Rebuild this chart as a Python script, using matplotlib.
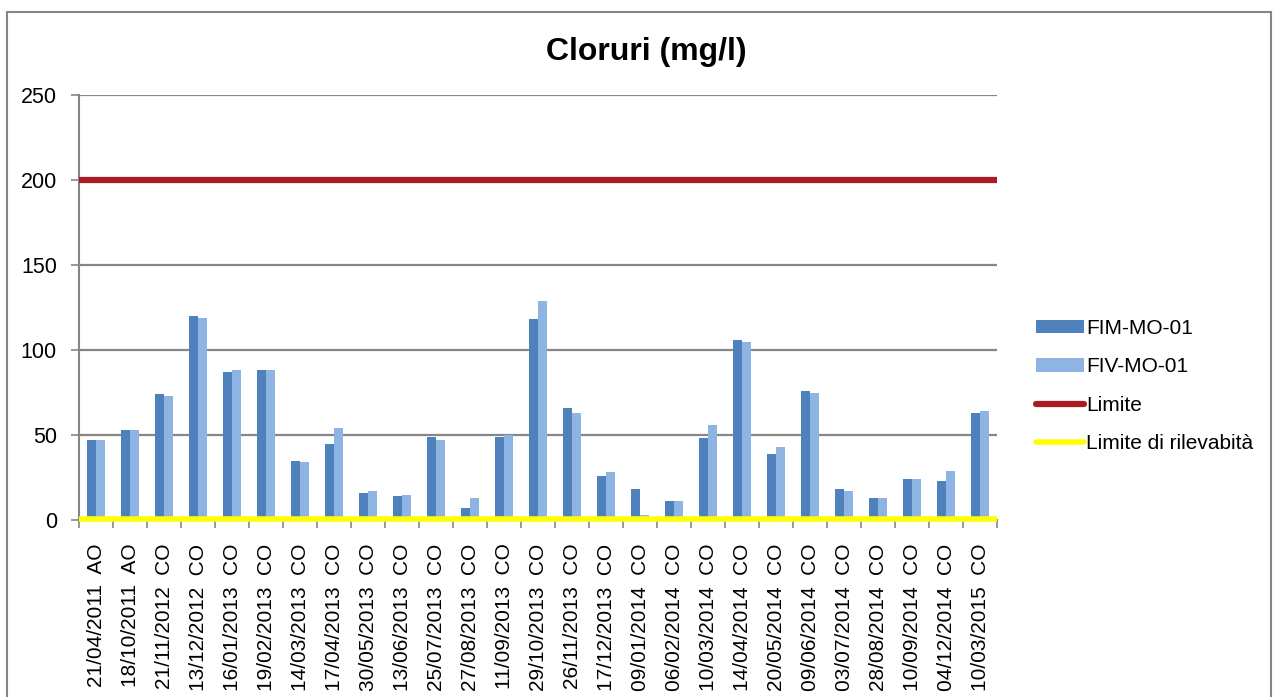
import matplotlib
matplotlib.use("Agg")
import matplotlib.pyplot as plt
import numpy as np
from matplotlib.patches import Patch, Rectangle
from matplotlib.lines import Line2D

plt.rcParams['font.family'] = ['Liberation Sans', 'DejaVu Sans']

date_labels = [
    "21/04/2011  AO", "18/10/2011  AO", "21/11/2012  CO", "13/12/2012  CO",
    "16/01/2013  CO", "19/02/2013  CO", "14/03/2013  CO", "17/04/2013  CO",
    "30/05/2013  CO", "13/06/2013  CO", "25/07/2013  CO", "27/08/2013  CO",
    "11/09/2013  CO", "29/10/2013  CO", "26/11/2013  CO", "17/12/2013  CO",
    "09/01/2014  CO", "06/02/2014  CO", "10/03/2014  CO", "14/04/2014  CO",
    "20/05/2014  CO", "09/06/2014  CO", "03/07/2014  CO", "28/08/2014  CO",
    "10/09/2014  CO", "04/12/2014  CO", "10/03/2015  CO",
]
fim_mo_01 = [47, 53, 74, 120, 87, 88, 35, 45, 16, 14, 49, 7, 49, 118,
             66, 26, 18, 11, 48, 106, 39, 76, 18, 13, 24, 23, 63]
fiv_mo_01 = [47, 53, 73, 119, 88, 88, 34, 54, 17, 15, 47, 13, 50, 129,
             63, 28, 3, 11, 56, 105, 43, 75, 17, 13, 24, 29, 64]
limite = 200
limite_rilevabilita = 0.5

fig = plt.figure(figsize=(12.78, 6.97), dpi=100)
# bordo esterno del grafico
fig.patches.append(Rectangle((7 / 1278, -0.05), 1264 / 1278, 1.05 - 12 / 697,
                             transform=fig.transFigure, fill=False,
                             edgecolor='#868686', linewidth=1.5))

ax = fig.add_axes([79 / 1278, 1 - 520 / 697, 918 / 1278, 425 / 697])
x = np.arange(len(date_labels))
w = 0.27
ax.bar(x - w / 2, fim_mo_01, width=w, color='#4F81BD', zorder=3)
ax.bar(x + w / 2, fiv_mo_01, width=w, color='#8EB4E3', zorder=3)
ax.hlines(limite, -0.5, len(x) - 0.5, color='#AA1C23', linewidth=4.5, zorder=4)
ax.hlines(limite_rilevabilita, -0.5, len(x) - 0.5, color='#FFFF00',
          linewidth=4, zorder=4, clip_on=False)

ax.set_xlim(-0.5, len(x) - 0.5)
ax.set_ylim(0, 250)
ax.set_yticks(range(0, 251, 50))
ax.yaxis.grid(True, color='#868686', linewidth=1.6, zorder=0)
ax.set_xticks(np.arange(-0.5, len(x)), minor=False)
ax.set_xticklabels([])
ax.set_xticks(x, minor=True)
ax.set_xticklabels(date_labels, minor=True, rotation=90, fontsize=15)
ax.tick_params(axis='x', which='minor', length=0, pad=17)
ax.tick_params(axis='x', which='major', length=6, width=1.2, color='#868686',
               direction='out')
ax.tick_params(axis='y', length=6, width=1.2, color='#868686', labelsize=15.5,
               pad=10)
for s in ['top', 'right']:
    ax.spines[s].set_visible(False)
for s in ['left', 'bottom']:
    ax.spines[s].set_color('#868686')
    ax.spines[s].set_linewidth(1.5)

fig.text(0.506, 0.925, "Cloruri (mg/l)", ha='center', va='center',
         fontsize=23, fontweight='bold')

handles = [
    Patch(facecolor='#4F81BD', edgecolor='none'),
    Patch(facecolor='#8EB4E3', edgecolor='none'),
    Line2D([0], [0], color='#AA1C23', linewidth=4.5, solid_capstyle='round'),
    Line2D([0], [0], color='#FFFF00', linewidth=4, solid_capstyle='round'),
]
labels = ["FIM-MO-01", "FIV-MO-01", "Limite", "Limite di rilevabità"]
fig.legend(handles, labels, loc='center left',
           bbox_to_anchor=(1036 / 1278, 1 - 386 / 697), frameon=False,
           fontsize=15, handlelength=2.3, handleheight=0.6,
           handletextpad=0.1, labelspacing=0.93, borderaxespad=0,
           borderpad=0)

fig.savefig("out.png", dpi=100)
